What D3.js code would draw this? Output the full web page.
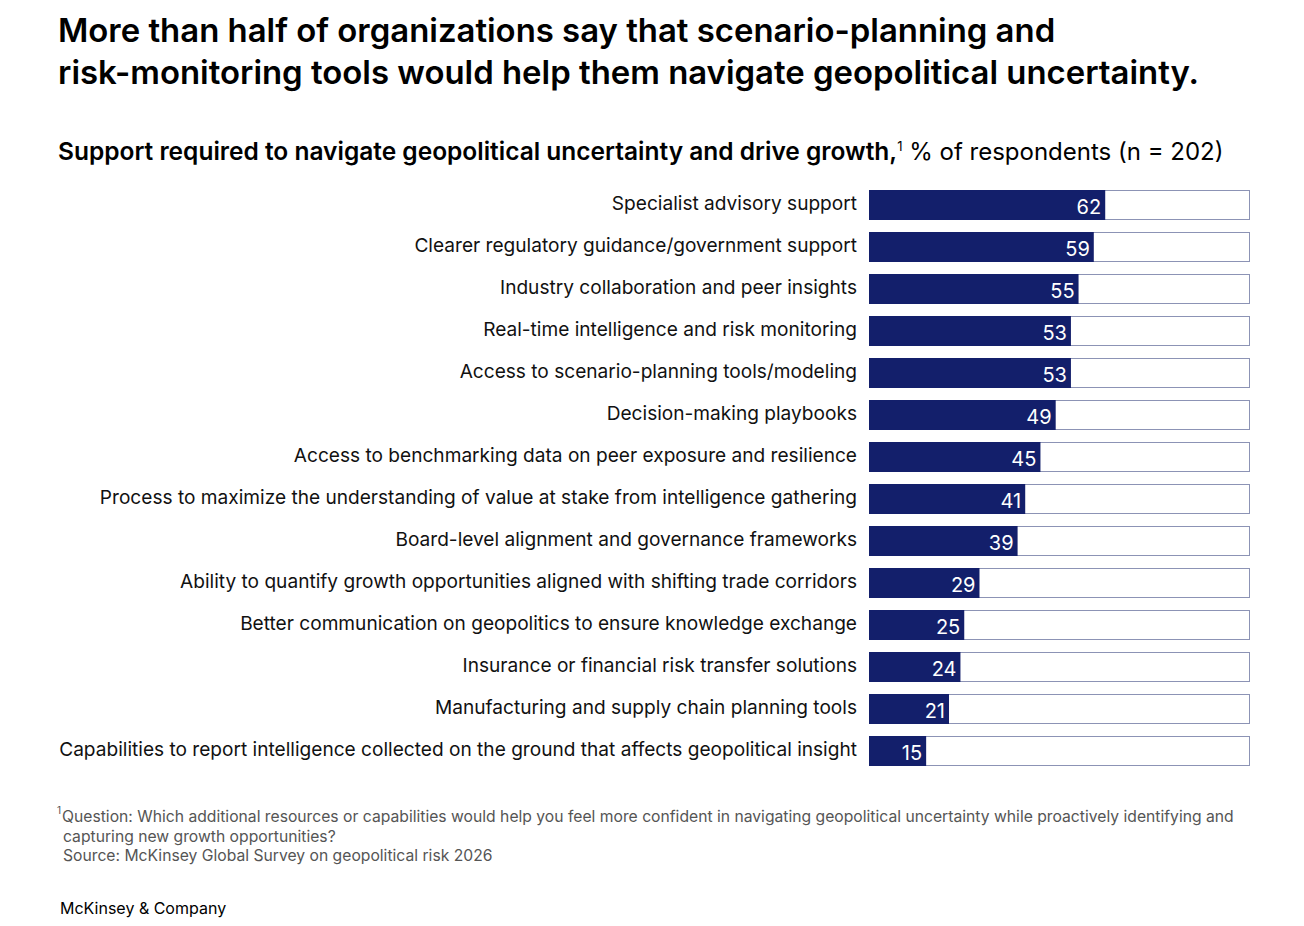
<!DOCTYPE html>
<html>
<head>
<meta charset="utf-8">
<script src="https://cdn.jsdelivr.net/npm/d3@7"></script>
<style>
  body { margin: 0; background: #fff; }
  svg { display: block; font-family: Inter, "Liberation Sans", sans-serif; }
</style>
</head>
<body>
<svg id="chart" width="1304" height="926"></svg>
<script>
var categories = [
  'Specialist advisory support',
  'Clearer regulatory guidance/government support',
  'Industry collaboration and peer insights',
  'Real-time intelligence and risk monitoring',
  'Access to scenario-planning tools/modeling',
  'Decision-making playbooks',
  'Access to benchmarking data on peer exposure and resilience',
  'Process to maximize the understanding of value at stake from intelligence gathering',
  'Board-level alignment and governance frameworks',
  'Ability to quantify growth opportunities aligned with shifting trade corridors',
  'Better communication on geopolitics to ensure knowledge exchange',
  'Insurance or financial risk transfer solutions',
  'Manufacturing and supply chain planning tools',
  'Capabilities to report intelligence collected on the ground that affects geopolitical insight'
];
var values = [62, 59, 55, 53, 53, 49, 45, 41, 39, 29, 25, 24, 21, 15];

var titleLines = [
  'More than half of organizations say that scenario-planning and',
  'risk-monitoring tools would help them navigate geopolitical uncertainty.'
];
var footLines = [
  'Question: Which additional resources or capabilities would help you feel more confident in navigating geopolitical uncertainty while proactively identifying and',
  'capturing new growth opportunities?',
  'Source: McKinsey Global Survey on geopolitical risk 2026'
];

var navy = '#131f6b';
var svg = d3.select('#chart');

// title
svg.append('g').selectAll('text')
  .data(titleLines)
  .enter()
  .append('text')
  .attr('x', 58)
  .attr('y', function (d, i) { return 42 + i * 42; })
  .attr('font-size', 32.9)
  .attr('font-weight', 600)
  .attr('fill', '#000')
  .text(function (d) { return d; });

// subtitle
var sub = svg.append('text')
  .attr('x', 58)
  .attr('y', 160)
  .attr('font-size', 24)
  .attr('fill', '#000');
sub.append('tspan').attr('font-weight', 600).attr('font-size', 24.5).text('Support required to navigate geopolitical uncertainty and drive growth,');
sub.append('tspan').attr('font-size', 13).attr('dy', -9).text('1');
sub.append('tspan').attr('dy', 9).text(' % of respondents (n = 202)');

var x = d3.scaleLinear().domain([0, 100]).range([869, 1250]);
var y = d3.scaleBand().domain(categories).range([190, 766]).paddingInner(12 / 42);

var rows = svg.append('g').selectAll('g')
  .data(categories)
  .enter()
  .append('g');

// outline track
rows.append('rect')
  .attr('x', x(0) + 0.5)
  .attr('y', function (d) { return y(d) + 0.5; })
  .attr('width', x(100) - x(0) - 1)
  .attr('height', y.bandwidth() - 1)
  .attr('fill', '#fff')
  .attr('stroke', '#8c93b5')
  .attr('stroke-width', 1);

rows.append('rect')
  .attr('x', x(0))
  .attr('y', function (d) { return y(d); })
  .attr('width', function (d, i) { return x(values[i]) - x(0); })
  .attr('height', y.bandwidth())
  .attr('fill', navy);

rows.append('text')
  .attr('x', function (d, i) { return x(values[i]) - 4; })
  .attr('y', function (d) { return y(d) + y.bandwidth() / 2 + 9; })
  .attr('text-anchor', 'end')
  .attr('font-size', 20)
  .attr('fill', '#fff')
  .text(function (d, i) { return values[i]; });

rows.append('text')
  .attr('x', 857)
  .attr('y', function (d) { return y(d) + y.bandwidth() / 2 + 5; })
  .attr('text-anchor', 'end')
  .attr('font-size', 19.1)
  .attr('fill', '#111')
  .text(function (d) { return d; });

// footnotes
var foot = svg.append('g');
foot.append('text')
  .attr('x', 57).attr('y', 814)
  .attr('font-size', 10).attr('fill', '#555')
  .text('1');
foot.selectAll('text.f')
  .data(footLines)
  .enter()
  .append('text')
  .attr('class', 'f')
  .attr('x', function (d, i) { return i === 0 ? 62 : 63; })
  .attr('y', function (d, i) { return 822 + i * 19.5; })
  .attr('font-size', 15.7)
  .attr('fill', '#555')
  .text(function (d) { return d; });

svg.append('text')
  .attr('x', 60).attr('y', 914)
  .attr('font-size', 16)
  .attr('fill', '#000')
  .text('McKinsey & Company');
</script>
</body>
</html>
